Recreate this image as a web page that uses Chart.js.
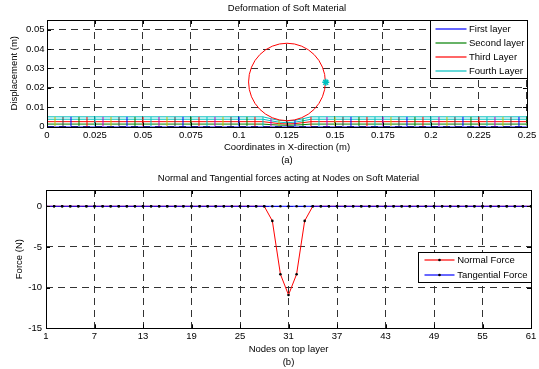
<!DOCTYPE html>
<html>
<head>
<meta charset="utf-8">
<script src="https://cdn.jsdelivr.net/npm/chart.js@4.4.0/dist/chart.umd.min.js"></script>
<style>
  body { margin: 0; background: #fff; }
  #wrap { position: relative; width: 539px; height: 369px; }
  #deformChart { position: absolute; left: 0; top: 0; }
  #forceChart { position: absolute; left: 0; top: 169px; }
</style>
</head>
<body>
<div id="wrap">
  <canvas id="deformChart" width="539" height="169"></canvas>
  <canvas id="forceChart" width="539" height="200"></canvas>
</div>
<script>
// nodes along the top layer
const nodes = [1, 2, 3, 4, 5, 6, 7, 8, 9, 10, 11, 12, 13, 14, 15, 16, 17, 18, 19, 20,
  21, 22, 23, 24, 25, 26, 27, 28, 29, 30, 31, 32, 33, 34, 35, 36, 37, 38, 39, 40,
  41, 42, 43, 44, 45, 46, 47, 48, 49, 50, 51, 52, 53, 54, 55, 56, 57, 58, 59, 60, 61];
const plateLength = 0.25;

// (a) deformation
const xTicksA = [0, 0.025, 0.05, 0.075, 0.1, 0.125, 0.15, 0.175, 0.2, 0.225, 0.25];
const yTicksA = [0, 0.01, 0.02, 0.03, 0.04, 0.05];
const layerNames = ['First layer', 'Second layer', 'Third Layer', 'Fourth Layer', ''];
const layerHeights = [0, 0.00125, 0.0025, 0.00375, 0.005];
const layerColors = ['#0000ff', '#008000', '#ff0000', '#00bfbf', '#00bfbf'];
const meshColors = ['#bf00bf', '#bfbf00', '#404040', '#0000ff', '#008000', '#ff0000', '#00bfbf'];
// dent under the indenter (nodes 29..33), per layer
const dentNodes = [29, 30, 31, 32, 33];
const dentDepth = [
  [0, 0, 0, 0, 0],
  [0.0003, 0.0005, 0.0006, 0.0005, 0.0003],
  [0.0005, 0.001, 0.0012, 0.001, 0.0005],
  [0.0008, 0.0015, 0.0018, 0.0015, 0.0008],
  [0.001, 0.0018, 0.0021, 0.0018, 0.001]
];
const indenter = { x: 0.125, y: 0.023, r: 0.02 };
const contactPoint = [{ x: 0.1452, y: 0.0228 }];

// (b) forces
const xTicksB = [1, 7, 13, 19, 25, 31, 37, 43, 49, 55, 61];
const yTicksB = [-15, -10, -5, 0];
const normalForce = [0, 0, 0, 0, 0, 0, 0, 0, 0, 0, 0, 0, 0, 0, 0, 0, 0, 0, 0, 0,
  0, 0, 0, 0, 0, 0, 0, 0, -1.8, -8.35, -10.9, -8.35, -1.8, 0, 0, 0, 0, 0, 0, 0,
  0, 0, 0, 0, 0, 0, 0, 0, 0, 0, 0, 0, 0, 0, 0, 0, 0, 0, 0, 0, 0];
const tangentialForce = [0, 0, 0, 0, 0, 0, 0, 0, 0, 0, 0, 0, 0, 0, 0, 0, 0, 0, 0, 0,
  0, 0, 0, 0, 0, 0, 0, 0, 0, 0, 0, 0, 0, 0, 0, 0, 0, 0, 0, 0,
  0, 0, 0, 0, 0, 0, 0, 0, 0, 0, 0, 0, 0, 0, 0, 0, 0, 0, 0, 0, 0];

Chart.defaults.font.family = "'Liberation Sans', Arial, sans-serif";
Chart.defaults.font.size = 9.5;
Chart.defaults.color = '#000';

const nodeX = n => (n - 1) * plateLength / (nodes.length - 1);
const layerY = (layer, n) => {
  const k = dentNodes.indexOf(n);
  return layerHeights[layer] - (k >= 0 ? dentDepth[layer][k] : 0);
};

// black box + inward ticks on all four sides
const framePlugin = {
  id: 'frame',
  afterDraw(chart) {
    const { ctx, chartArea: a, scales } = chart;
    const t = 4;
    ctx.save();
    ctx.strokeStyle = '#000';
    ctx.lineWidth = 1;
    ctx.beginPath();
    scales.x.ticks.forEach(tk => {
      const px = Math.round(scales.x.getPixelForValue(tk.value)) + 0.5;
      ctx.moveTo(px, a.bottom); ctx.lineTo(px, a.bottom - t);
      ctx.moveTo(px, a.top); ctx.lineTo(px, a.top + t);
    });
    scales.y.ticks.forEach(tk => {
      const py = Math.round(scales.y.getPixelForValue(tk.value)) + 0.5;
      ctx.moveTo(a.left, py); ctx.lineTo(a.left + t, py);
      ctx.moveTo(a.right, py); ctx.lineTo(a.right - t, py);
    });
    ctx.stroke();
    ctx.strokeRect(Math.round(a.left) + 0.5, Math.round(a.top) + 0.5,
      Math.round(a.right - a.left), Math.round(a.bottom - a.top));
    ctx.restore();
  }
};

// MATLAB-style legend sitting inside the axes
const boxLegend = {
  id: 'boxLegend',
  afterDraw(chart, args, o) {
    const { ctx, chartArea: a } = chart;
    const left = Math.round(a.right - o.width) + 0.5;
    const top = Math.round(a.top + o.offsetTop) + 0.5;
    const items = chart.data.datasets.filter(d => d.label);
    ctx.save();
    ctx.fillStyle = '#fff';
    ctx.fillRect(left, top, o.width, o.height);
    ctx.strokeStyle = '#000';
    ctx.lineWidth = 1;
    ctx.strokeRect(left, top, Math.round(a.right) - left + 0.5, o.height);
    ctx.font = "9.5px 'Liberation Sans', Arial, sans-serif";
    ctx.textBaseline = 'middle';
    items.forEach((d, i) => {
      const y = Math.round(top + o.firstRow + i * o.rowGap);
      ctx.strokeStyle = o.colors[i];
      ctx.lineWidth = 1.2;
      ctx.beginPath();
      ctx.moveTo(left + o.lineStart, y);
      ctx.lineTo(left + o.lineEnd, y);
      ctx.stroke();
      if (o.marker) {
        ctx.fillStyle = '#000';
        ctx.beginPath();
        ctx.arc(left + (o.lineStart + o.lineEnd) / 2, y, 1.3, 0, Math.PI * 2);
        ctx.fill();
      }
      ctx.fillStyle = '#000';
      ctx.fillText(d.label, left + o.textStart, y + 0.5);
    });
    ctx.restore();
  }
};

// indenter circle, drawn just before the contact marker
const indenterPlugin = {
  id: 'indenter',
  beforeDatasetDraw(chart, args) {
    if (!chart.data.datasets[args.index].isMarker) return;
    const { ctx, chartArea: a, scales: { x, y } } = chart;
    const cx = x.getPixelForValue(indenter.x), cy = y.getPixelForValue(indenter.y);
    const rx = Math.abs(x.getPixelForValue(indenter.x + indenter.r) - cx);
    const ry = Math.abs(y.getPixelForValue(indenter.y + indenter.r) - cy);
    ctx.save();
    ctx.beginPath();
    ctx.rect(a.left, a.top, a.right - a.left, a.bottom - a.top);
    ctx.clip();
    ctx.strokeStyle = '#ff0000';
    ctx.lineWidth = 1;
    ctx.beginPath();
    ctx.ellipse(cx, cy, rx, ry, 0, 0, Math.PI * 2);
    ctx.stroke();
    ctx.restore();
  }
};

const gridOpts = { color: '#333333', lineWidth: 1, drawTicks: false };
const borderOpts = { display: false, dash: [7, 5] };

// a bare top axis that only carries the title, so it is centred over the axes
const titleAxis = (text, height, padTop) => ({
  type: 'linear', position: 'top',
  grid: { display: false }, border: { display: false },
  ticks: { display: false },
  afterFit: s => { s.height = height; },
  title: { display: true, text, font: { size: 9.5 }, padding: { top: padTop, bottom: 0 } }
});

// ---- chart (a) ----
const layerSets = layerHeights.map((h, r) => ({
  label: layerNames[r],
  data: nodes.map(n => ({ x: nodeX(n), y: layerY(r, n) })),
  borderColor: layerColors[r],
  borderWidth: 1,
  pointRadius: 0,
  order: 1
}));
const meshSets = nodes.map((n, i) => ({
  data: [{ x: nodeX(n), y: 0 }, { x: nodeX(n), y: layerY(layerHeights.length - 1, n) }],
  borderColor: meshColors[i % meshColors.length],
  borderWidth: 1,
  pointRadius: 0,
  order: 0
}));

new Chart(document.getElementById('deformChart'), {
  type: 'line',
  data: {
    datasets: [...layerSets, ...meshSets, {
      isMarker: true,
      data: contactPoint,
      showLine: false,
      pointStyle: 'star',
      pointRadius: 3.5,
      borderColor: '#00bfbf',
      pointBorderWidth: 1.5,
      order: -1
    }]
  },
  options: {
    responsive: false,
    animation: false,
    events: [],
    layout: { padding: { left: 0, right: 9, top: 0, bottom: 2 } },
    plugins: {
      legend: { display: false },
      tooltip: { enabled: false },
      boxLegend: {
        width: 97, height: 58, offsetTop: 0,
        firstRow: 8.3, rowGap: 14.1,
        lineStart: 5, lineEnd: 36, textStart: 38.5,
        colors: layerColors
      }
    },
    scales: {
      x: {
        type: 'linear', min: 0, max: 0.25,
        afterBuildTicks: s => { s.ticks = xTicksA.map(v => ({ value: v })); },
        afterFit: s => { s.height = 40.5; },
        ticks: { padding: 2.8, maxRotation: 0, callback: v => String(v) },
        grid: gridOpts, border: borderOpts,
        title: {
          display: true,
          text: ['Coordinates in X-direction (m)', '(a)'],
          font: { size: 9.5, lineHeight: 13 / 9.5 },
          padding: { top: 0, bottom: 0 }
        }
      },
      top: { min: 0, max: 0.25, ...titleAxis('Deformation of Soft Material', 20, 3) },
      y: {
        min: 0, max: 0.055,
        afterBuildTicks: s => { s.ticks = yTicksA.map(v => ({ value: v })); },
        afterFit: s => { s.width = 47; },
        ticks: { padding: 2.5, callback: v => String(v) },
        grid: gridOpts, border: borderOpts,
        title: {
          display: true,
          text: 'Displacement (m)',
          font: { size: 9.5 },
          padding: { top: 8.3, bottom: 0 }
        }
      }
    }
  },
  plugins: [indenterPlugin, framePlugin, boxLegend]
});

// ---- chart (b) ----
new Chart(document.getElementById('forceChart'), {
  type: 'line',
  data: {
    datasets: [{
      label: 'Normal Force',
      data: nodes.map((n, i) => ({ x: n, y: normalForce[i] })),
      borderColor: '#ff0000',
      borderWidth: 1,
      pointRadius: 1.3,
      pointBackgroundColor: '#000',
      pointBorderWidth: 0,
      order: 1
    }, {
      label: 'Tangential Force',
      data: nodes.map((n, i) => ({ x: n, y: tangentialForce[i] })),
      borderColor: '#0000ff',
      borderWidth: 1,
      pointRadius: 1.3,
      pointBackgroundColor: '#000',
      pointBorderWidth: 0,
      order: 0
    }]
  },
  options: {
    responsive: false,
    animation: false,
    events: [],
    layout: { padding: { left: 0, right: 8, top: 0, bottom: 0 } },
    plugins: {
      legend: { display: false },
      tooltip: { enabled: false },
      boxLegend: {
        width: 113, height: 30, offsetTop: 61.7,
        firstRow: 7.6, rowGap: 14.4,
        lineStart: 6, lineEnd: 36, textStart: 38.7,
        colors: ['#ff0000', '#0000ff'], marker: true
      }
    },
    scales: {
      x: {
        type: 'linear', min: 1, max: 61,
        afterBuildTicks: s => { s.ticks = xTicksB.map(v => ({ value: v })); },
        afterFit: s => { s.height = 40.7; },
        ticks: { padding: 2.7, maxRotation: 0, callback: v => String(v) },
        grid: gridOpts, border: borderOpts,
        title: {
          display: true,
          text: ['Nodes on top layer', '(b)'],
          font: { size: 9.5, lineHeight: 13 / 9.5 },
          padding: { top: 0, bottom: 0 }
        }
      },
      top: { min: 1, max: 61, ...titleAxis('Normal and Tangential forces acting at Nodes on Soft Material', 21, 3.6) },
      y: {
        min: -15, max: 2,
        afterBuildTicks: s => { s.ticks = yTicksB.map(v => ({ value: v })); },
        afterFit: s => { s.width = 46; },
        ticks: { padding: 4, callback: v => String(v) },
        grid: gridOpts, border: borderOpts,
        title: {
          display: true,
          text: 'Force (N)',
          font: { size: 9.5 },
          padding: { top: 13.3, bottom: 0 }
        }
      }
    }
  },
  plugins: [framePlugin, boxLegend]
});
</script>
</body>
</html>
